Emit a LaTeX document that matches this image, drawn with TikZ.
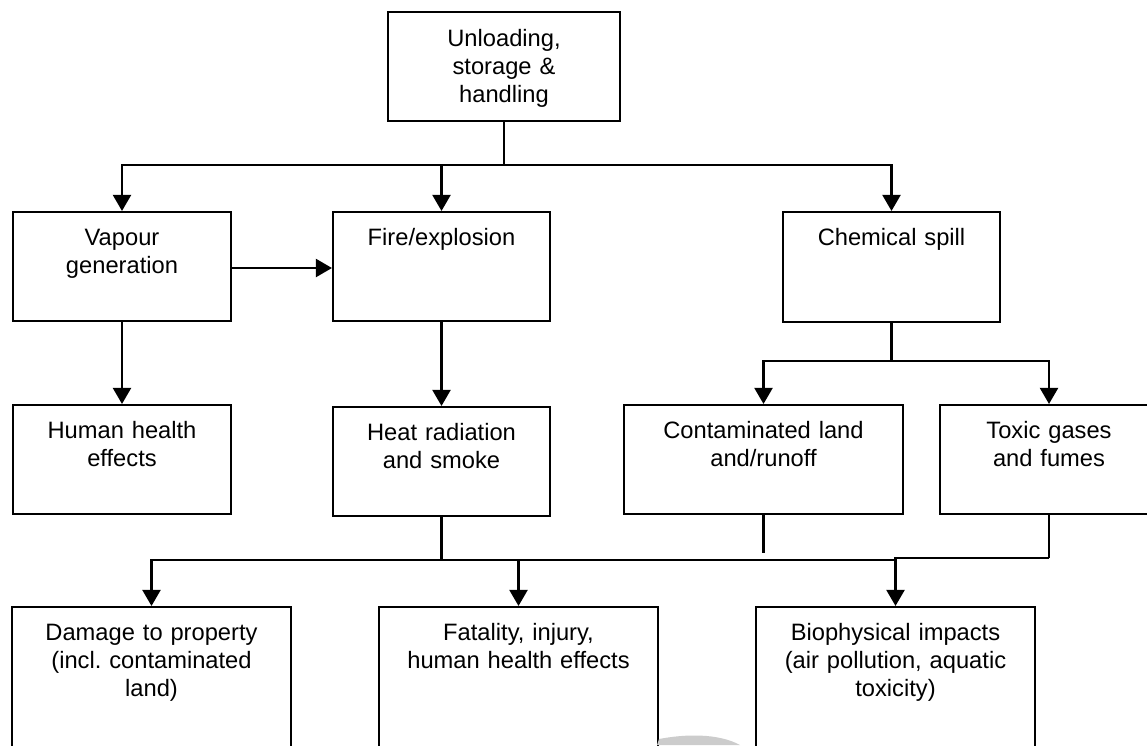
\documentclass[tikz,border=0pt]{standalone}
\usepackage{fontspec}
\setmainfont{Liberation Sans}
\usetikzlibrary{arrows.meta}
\begin{document}
\frenchspacing
\begin{tikzpicture}[x=1pt,y=-1pt,
  box/.style={draw=black, line width=2.1pt, rectangle, inner sep=0pt},
  lbl/.style={anchor=base, align=center, inner sep=0pt, text width=#1,
    font=\fontsize{23.7}{27.7}\selectfont},
  lbl/.default=280pt,
  conn/.style={line width=2.1pt, draw=black},
  arr/.style={conn, -{Triangle[length=16pt,width=18pt]}},
  wm/.style={fill=black!20}]
\clip (0,0) rectangle (1147,745);
\useasboundingbox (0,0) rectangle (1147,745);
\fill[white] (0,0) rectangle (1147,745);
% boxes (centre, width, height)
\node[box, minimum width=232pt, minimum height=109pt] (top) at (504,66.5) {};
\node[box, minimum width=218pt, minimum height=109pt] (vap) at (122,266.5) {};
\node[box, minimum width=217pt, minimum height=109pt] (fire) at (441.5,266.5) {};
\node[box, minimum width=217pt, minimum height=110pt] (chem) at (891.5,267) {};
\node[box, minimum width=218pt, minimum height=109pt] (hum) at (122,459.5) {};
\node[box, minimum width=217pt, minimum height=109pt] (heat) at (441.5,461.5) {};
\node[box, minimum width=279pt, minimum height=109pt] (cont) at (763.5,459.5) {};
\node[box, minimum width=218pt, minimum height=109pt] (tox) at (1049,459.5) {};
\node[box, minimum width=279pt, minimum height=160pt] (dmg) at (151.5,687) {};
\node[box, minimum width=279pt, minimum height=160pt] (fat) at (518.5,687) {};
\node[box, minimum width=279pt, minimum height=160pt] (bio) at (895.5,687) {};
% labels
\node[lbl] (top-t) at ([yshift=-36pt]top.north) {Unloading,\\storage \&\\handling};
\node[lbl] (vap-t) at ([yshift=-35pt]vap.north) {Vapour\\generation};
\node[lbl] (fire-t) at ([yshift=-35pt]fire.north) {Fire/explosion};
\node[lbl] (chem-t) at ([yshift=-35pt]chem.north) {Chemical spill};
\node[lbl] (hum-t) at ([yshift=-35pt]hum.north) {Human health\\effects};
\node[lbl] (heat-t) at ([yshift=-35pt]heat.north) {Heat radiation\\and smoke};
\node[lbl] (cont-t) at ([yshift=-35pt]cont.north) {Contaminated land\\and/runoff};
\node[lbl] (tox-t) at ([yshift=-35pt]tox.north) {Toxic gases\\and fumes};
\node[lbl] (dmg-t) at ([yshift=-35pt]dmg.north) {Damage to property\\(incl. contaminated\\land)};
\node[lbl] (fat-t) at ([yshift=-35pt]fat.north) {Fatality, injury,\\human health effects};
\node[lbl] (bio-t) at ([yshift=-35pt]bio.north) {Biophysical impacts\\(air pollution, aquatic\\toxicity)};
% junction coordinates
\coordinate (j1) at (504,165);
\coordinate (j2) at (891.5,361);
\coordinate (j3) at (441.5,560);
\coordinate (j4) at (1049,558);
\coordinate (cend) at (763.5,553);
% connectors
\draw[conn] (top.south) -- (j1);
\draw[arr] (j1) -| (vap.north);
\draw[arr] (j1) -| (fire.north);
\draw[arr] (j1) -| (chem.north);
\draw[arr] (vap.east |- 0,268) -- (fire.west |- 0,268);
\draw[arr] (vap.south) -- (hum.north);
\draw[arr] (fire.south) -- (heat.north);
\draw[conn] (chem.south) -- (j2);
\draw[arr] (j2) -| (cont.north);
\draw[arr] (j2) -| (tox.north);
\draw[conn] (heat.south) -- (j3);
\draw[arr] (j3) -| (dmg.north);
\draw[arr] (j3) -| (fat.north);
\draw[conn] (j3) -- (896.5,560);
\draw[conn] (cont.south) -- (cend);
\draw[conn] (tox.south) -- (j4);
\draw[arr] (j4) -| (bio.north);
% faint watermark fragment
\fill[wm] (657,745) -- (659,739) .. controls (685,734) and (718,733) .. (740,745) -- cycle;
\end{tikzpicture}
\end{document}
